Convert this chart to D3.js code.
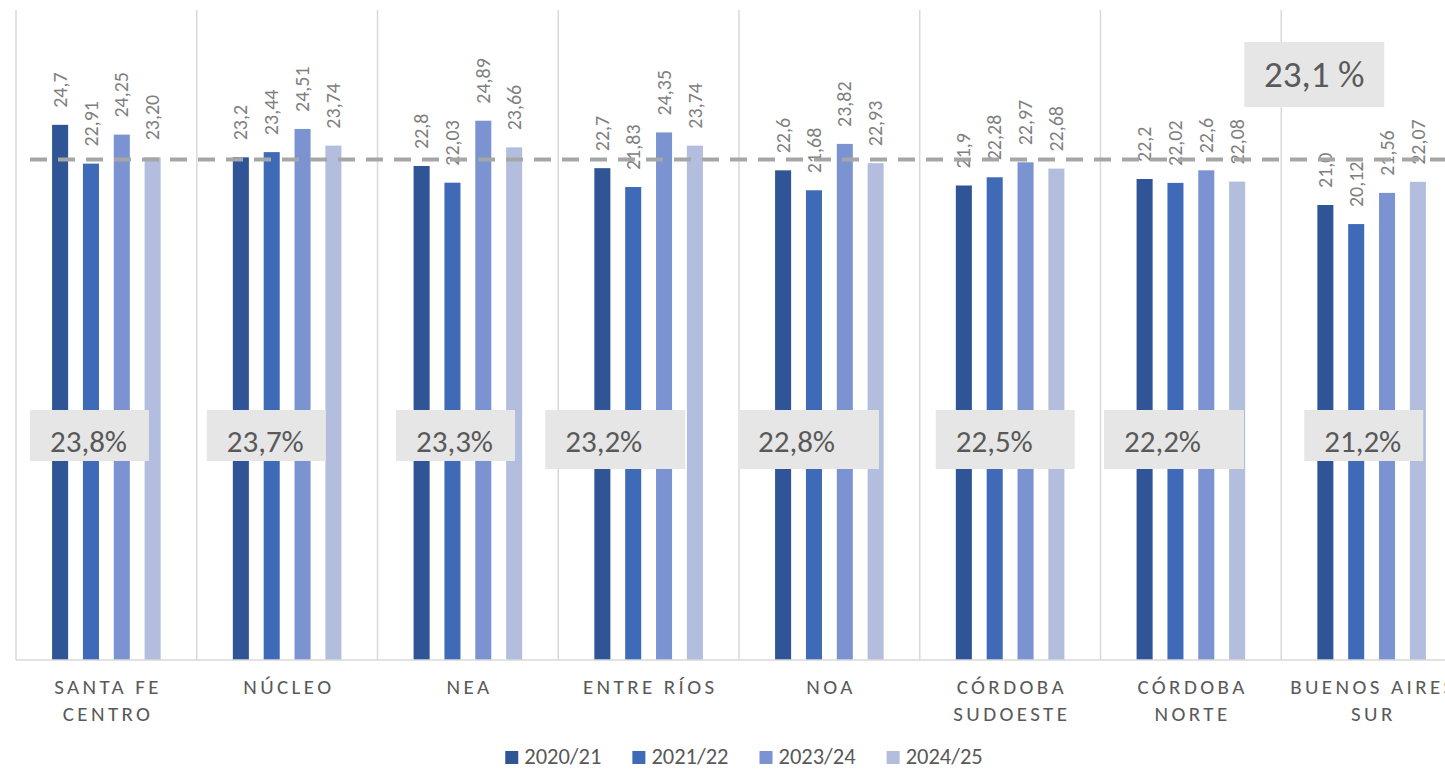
<!DOCTYPE html>
<html lang="es">
<head>
<meta charset="utf-8">
<title>Rendimiento por región</title>
<script src="https://cdn.jsdelivr.net/npm/d3@7"></script>
<style>
  html, body { margin: 0; padding: 0; background: #ffffff; }
  svg { display: block; font-family: Carlito, Calibri, Lato, "Open Sans", sans-serif; }
</style>
</head>
<body>
<svg id="chart" width="1445" height="774"></svg>
<script>
// Regions (x axis)
const categories = [
  "Santa Fe Centro", "Núcleo", "NEA", "Entre Ríos",
  "NOA", "Córdoba Sudoeste", "Córdoba Norte", "Buenos Aires Sur"
];

// Campaigns (series)
const seriesNames = ["2020/21", "2021/22", "2023/24", "2024/25"];

// Values per campaign, written as they appear in the data labels
const values2020_21 = ["24,7", "23,2", "22,8", "22,7", "22,6", "21,9", "22,2", "21,0"];
const values2021_22 = ["22,91", "23,44", "22,03", "21,83", "21,68", "22,28", "22,02", "20,12"];
const values2023_24 = ["24,25", "24,51", "24,89", "24,35", "23,82", "22,97", "22,6", "21,56"];
const values2024_25 = ["23,20", "23,74", "23,66", "23,74", "22,93", "22,68", "22,08", "22,07"];

// Regional averages and national reference
const regionAverages = ["23,8%", "23,7%", "23,3%", "23,2%", "22,8%", "22,5%", "22,2%", "21,2%"];
const nationalAverage = 23.1;
const nationalLabel = "23,1 %";

// Y axis range
const yDomain = [0, 30];

// ---- layout / style ----
const colors = ["#2f5597", "#3f6ab8", "#7b93d0", "#b3bedf"];
const plot = { left: 16, right: 1462, top: 10, bottom: 660 };
// average badge placement: [offset from band start, width, height]
const badgeLayout = [
  [14, 119, 51], [10, 119, 51], [18.5, 119, 51], [-13, 140, 59],
  [-1, 141, 59], [16, 139, 59], [3.5, 140, 59], [23, 119, 51]
];

const toNum = s => +s.replace("%", "").trim().replace(",", ".");
const seriesLabels = [values2020_21, values2021_22, values2023_24, values2024_25];

const rows = categories.map((c, i) => ({
  category: c,
  bars: seriesNames.map((s, j) => ({
    series: s, idx: j, label: seriesLabels[j][i], value: toNum(seriesLabels[j][i])
  }))
}));

const svg = d3.select("#chart");

const x0 = d3.scaleBand().domain(categories).range([plot.left, plot.right])
  .paddingInner(0).paddingOuter(0);
const x1 = d3.scaleBand().domain(seriesNames).range([0, x0.bandwidth()])
  .paddingInner(0.48).paddingOuter(1.17);
const y = d3.scaleLinear().domain(yDomain).range([plot.bottom, plot.top]);

// vertical separators between regions
const gridX = categories.map(c => x0(c)).concat([plot.right]);
svg.append("g").selectAll("line").data(gridX).join("line")
  .attr("x1", d => d).attr("x2", d => d)
  .attr("y1", y(yDomain[1])).attr("y2", y(0))
  .attr("stroke", "#d9d9d9").attr("stroke-width", 1.5);

// bars
const groups = svg.append("g").selectAll("g").data(rows).join("g")
  .attr("transform", d => `translate(${x0(d.category)},0)`);

groups.selectAll("rect").data(d => d.bars).join("rect")
  .attr("x", d => x1(d.series))
  .attr("width", x1.bandwidth())
  .attr("y", d => y(d.value))
  .attr("height", d => y(0) - y(d.value))
  .attr("fill", d => colors[d.idx]);

// baseline (x axis)
const xAxis = d3.axisBottom(x0).tickSize(0).tickFormat("");
const axisG = svg.append("g").attr("transform", `translate(0,${y(0)})`).call(xAxis);
axisG.select(".domain").attr("stroke", "#d9d9d9").attr("stroke-width", 1.5)
  .attr("d", `M${plot.left},0H${plot.right}`);

// national average reference line
svg.append("line")
  .attr("x1", 30).attr("x2", plot.right)
  .attr("y1", y(nationalAverage)).attr("y2", y(nationalAverage))
  .attr("stroke", "#a6a6a6").attr("stroke-width", 4)
  .attr("stroke-dasharray", "17,11");

// rotated value labels above each bar
groups.selectAll("text.val").data(d => d.bars).join("text")
  .attr("class", "val")
  .attr("transform", d => `translate(${x1(d.series) + x1.bandwidth() / 2},${y(d.value) - 17}) rotate(-90)`)
  .attr("dy", "0.33em")
  .attr("text-anchor", "start")
  .attr("font-size", 20)
  .attr("fill", "#7f7f7f")
  .text(d => d.label);

// category labels, spaced capitals; long names put their last word on a second line
const catG = svg.append("g");
const catSpacing = 3.4;
categories.forEach(c => {
  const cx = x0(c) + x0.bandwidth() / 2;
  const label = c.toUpperCase();
  const t = catG.append("text")
    .attr("x", cx).attr("y", 694)
    .attr("text-anchor", "middle")
    .attr("font-size", 21)
    .attr("letter-spacing", catSpacing)
    .attr("fill", "#595959");
  const probe = t.append("tspan").text(label);
  let lines = [label];
  const cut = label.lastIndexOf(" ");
  if (probe.node().getComputedTextLength() > 150 && cut > 0) {
    lines = [label.slice(0, cut), label.slice(cut + 1)];
  }
  probe.remove();
  lines.forEach((ln, k) => {
    t.append("tspan").attr("x", cx + catSpacing / 2).attr("dy", k === 0 ? 0 : 27).text(ln);
  });
});

// regional average badges
const badges = svg.append("g").selectAll("g").data(categories).join("g")
  .attr("transform", (c, i) => `translate(${x0(c) + badgeLayout[i][0]},410)`);
badges.append("rect")
  .attr("width", (c, i) => badgeLayout[i][1])
  .attr("height", (c, i) => badgeLayout[i][2])
  .attr("fill", "#e6e6e6");
badges.append("text")
  .attr("x", 20).attr("y", 42)
  .attr("font-size", 31)
  .attr("fill", "#595959")
  .text((c, i) => regionAverages[i]);

// national average badge
const nat = svg.append("g")
  .attr("transform", `translate(${x0(categories[categories.length - 1]) - 37},42)`);
nat.append("rect").attr("width", 140).attr("height", 65).attr("fill", "#e6e6e6");
nat.append("text").attr("x", 70).attr("y", 45)
  .attr("text-anchor", "middle")
  .attr("font-size", 37)
  .attr("fill", "#595959")
  .text(nationalLabel);

// legend
const legend = svg.append("g");
const items = legend.selectAll("g").data(seriesNames).join("g");
items.append("rect").attr("width", 13).attr("height", 13).attr("y", 751)
  .attr("fill", (d, i) => colors[i]);
items.append("text").attr("x", 19).attr("y", 764)
  .attr("font-size", 22.5).attr("fill", "#595959").text(d => d);
let cursor = 0;
const offsets = [];
items.each(function () {
  const w = 19 + d3.select(this).select("text").node().getComputedTextLength();
  offsets.push(cursor);
  cursor += w + 31;
});
const totalW = cursor - 31;
const startX = 744 - totalW / 2;
items.attr("transform", (d, i) => `translate(${startX + offsets[i]},0)`);
</script>
</body>
</html>
